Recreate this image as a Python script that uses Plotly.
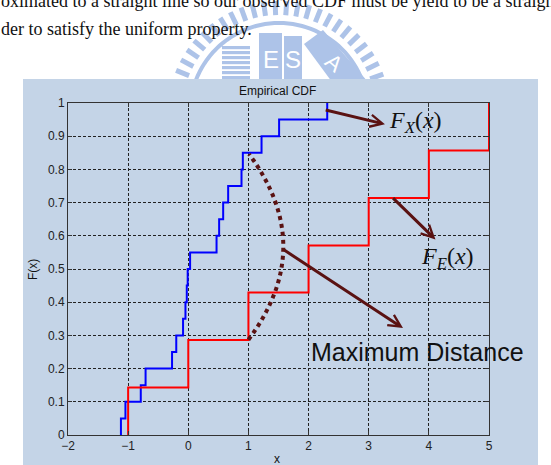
import math
import plotly.graph_objects as go

# ---------------- data ----------------
# observed sample CDF F_X(x): jump locations and levels
blue_x = [-1.12, -1.045, -0.79, -0.71, -0.27, -0.20, -0.087, -0.047, -0.025, -0.01,
          0.03, 0.47, 0.513, 0.58, 0.663, 0.885, 0.907, 1.218, 1.51, 2.31]
blue_y = [0.05, 0.10, 0.15, 0.20, 0.25, 0.30, 0.35, 0.40, 0.45, 0.50,
          0.55, 0.60, 0.65, 0.70, 0.75, 0.80, 0.85, 0.90, 0.95, 1.00]
# reference (uniform) CDF F_E(x)
red_x = [-1, 0, 1, 2, 3, 4, 5]
red_y = [0.143, 0.286, 0.429, 0.571, 0.714, 0.857, 1.0]

x_ticks = [-2, -1, 0, 1, 2, 3, 4, 5]
y_ticks = [0, 0.1, 0.2, 0.3, 0.4, 0.5, 0.6, 0.7, 0.8, 0.9, 1]
y_tick_labels = ["0", "0.1", "0.2", "0.3", "0.4", "0.5", "0.6", "0.7", "0.8", "0.9", "1"]

# ---------------- layout helpers ----------------
W, H = 551, 465
ML, MR, MT, MB = 68, 62, 103, 30
PW, PH = W - ML - MR, H - MT - MB


def px(x):
    return (x - ML) / PW


def py(y):
    return (H - MB - y) / PH


MAROON = "#5a1212"
LOGO = "#adc3e8"
PANEL = "#c4d4e7"

fig = go.Figure()
fig.add_trace(go.Scatter(x=[blue_x[0]] + blue_x, y=[0] + blue_y, mode="lines",
                         line=dict(color="#0000ff", width=2, shape="hv"), hoverinfo="skip"))
fig.add_trace(go.Scatter(x=[red_x[0]] + red_x, y=[0] + red_y, mode="lines",
                         line=dict(color="#ff0000", width=2, shape="hv"), hoverinfo="skip"))

shapes = []
# ---- watermark logo (behind the figure panel) ----
cx, cy = 279, 112
for a in range(8, 175, 6):
    t = math.radians(a)
    shapes.append(dict(type="line", xref="paper", yref="paper", layer="below",
                       x0=px(cx + 97 * math.cos(t)), y0=py(cy - 97 * math.sin(t)),
                       x1=px(cx + 111 * math.cos(t)), y1=py(cy - 111 * math.sin(t)),
                       line=dict(color=LOGO, width=5)))
pts = []
for a in range(15, 166, 3):
    t = math.radians(a)
    pts.append(f"{px(cx + 89 * math.cos(t)):.5f},{py(cy - 89 * math.sin(t)):.5f}")
shapes.append(dict(type="path", xref="paper", yref="paper", layer="below",
                   path="M " + " L ".join(pts), line=dict(color=LOGO, width=4)))
# striped book
for k in range(7):
    y0 = 46 + k * 5
    shapes.append(dict(type="rect", xref="paper", yref="paper", layer="below",
                       x0=px(222), x1=px(250), y0=py(y0), y1=py(y0 + 3.2),
                       fillcolor=LOGO, line=dict(width=0)))
shapes.append(dict(type="rect", xref="paper", yref="paper", layer="below",
                   x0=px(259), x1=px(282), y0=py(33), y1=py(82),
                   fillcolor=LOGO, line=dict(width=0)))
shapes.append(dict(type="rect", xref="paper", yref="paper", layer="below",
                   x0=px(284), x1=px(302), y0=py(36), y1=py(82),
                   fillcolor=LOGO, line=dict(width=0)))
shapes.append(dict(type="path", xref="paper", yref="paper", layer="below",
                   path=f"M {px(304)},{py(44)} L {px(323)},{py(30)} L {px(368)},{py(82)} L {px(332)},{py(82)} Z",
                   fillcolor=LOGO, line=dict(width=0)))
# ---- figure panel ----
shapes.append(dict(type="rect", xref="paper", yref="paper", layer="below",
                   x0=px(23), x1=px(538), y0=py(79), y1=py(470),
                   fillcolor=PANEL, line=dict(width=0)))
# ---- dotted "maximum distance" arc ----
shapes.append(dict(type="path", xref="x", yref="y", layer="above",
                   path="M 1.0,0.287 Q 2.155,0.567 1.01,0.846",
                   line=dict(color=MAROON, width=4, dash="dot")))


def label(x, y, text, size, family="Liberation Sans", color="#111", xa="center", ya="middle", angle=0):
    return dict(xref="paper", yref="paper", x=px(x), y=py(y), xanchor=xa, yanchor=ya,
                text=text, showarrow=False, textangle=angle,
                font=dict(family=family, size=size, color=color))


ann = []
# paragraph text
ann.append(label(-1, 1.5, "oximated to a straight line so our observed CDF must be yield to be a straight",
                 18, family="Liberation Serif", xa="left"))
ann.append(label(-1, 29.5, "der to satisfy the uniform property.", 18, family="Liberation Serif", xa="left"))
# logo letters
ann.append(label(271, 60, "E", 24, family="Liberation Sans Narrow, Liberation Sans", color="white"))
ann.append(label(293, 60, "S", 24, family="Liberation Sans Narrow, Liberation Sans", color="white"))
ann.append(label(334, 62, "A", 22, color="white", angle=40))
# title and axis labels
ann.append(label(277, 91, "Empirical CDF", 12))
ann.append(label(277, 459, "x", 12))
ann.append(label(33, 270, "F(x)", 12, angle=-90))
# arrows
for (hx, hy, tx, ty) in [(3.27, 0.936, 2.26, 0.98), (4.11, 0.589, 3.38, 0.718), (3.57, 0.322, 1.57, 0.56)]:
    ann.append(dict(xref="x", yref="y", axref="x", ayref="y", x=hx, y=hy, ax=tx, ay=ty, text="",
                    showarrow=True, arrowhead=5, arrowsize=0.8, arrowwidth=3, arrowcolor=MAROON))
# labels
ann.append(label(387, 122, "<i>F</i><sub><i>X</i></sub>(<i>x</i>)", 24, family="Liberation Serif", xa="left"))
ann.append(label(419, 258, "<i>F</i><sub><i>E</i></sub>(<i>x</i>)", 24, family="Liberation Serif", xa="left"))
ann.append(label(309, 352, "Maximum Distance", 25, xa="left"))

axis_common = dict(ticks="inside", ticklen=4, tickcolor="#333", showline=True, linecolor="#333",
                   linewidth=1, mirror="allticks", showgrid=True, gridcolor="#222", gridwidth=1,
                   griddash="3px,2px", zeroline=False,
                   tickfont=dict(family="Liberation Sans", size=12, color="#222"))

fig.update_layout(
    width=W, height=H, margin=dict(l=ML, r=MR, t=MT, b=MB, pad=0),
    paper_bgcolor="white", plot_bgcolor="white", showlegend=False,
    shapes=shapes, annotations=ann,
    xaxis=dict(range=[-2, 5], tickvals=x_ticks, **axis_common),
    yaxis=dict(range=[0, 1], tickvals=y_ticks, ticktext=y_tick_labels, **axis_common),
)

fig.write_html("out.html")
